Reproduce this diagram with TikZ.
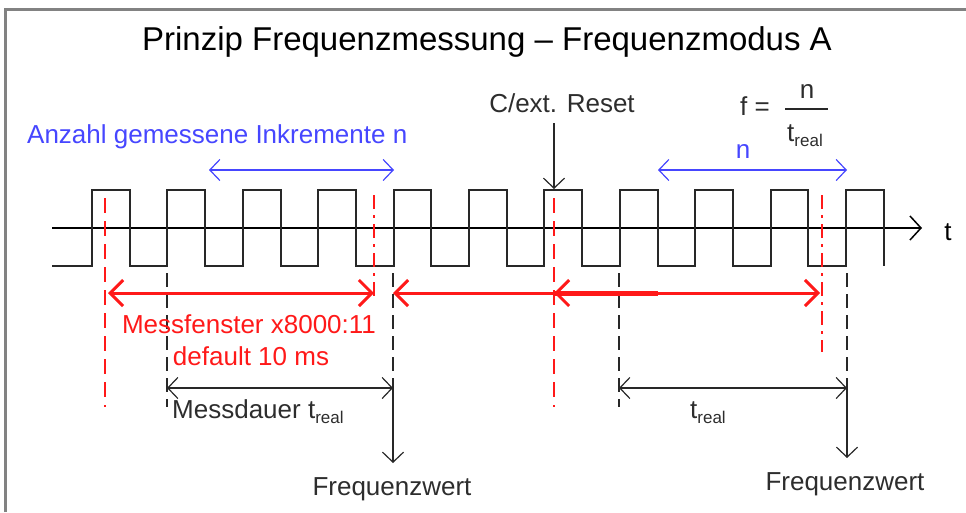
\documentclass[tikz,border=0pt]{standalone}
\usepackage{fontspec}
\setmainfont{Liberation Sans}
\usetikzlibrary{arrows.meta}
\definecolor{myred}{RGB}{255,25,25}
\definecolor{myblue}{RGB}{70,70,255}
\definecolor{txt}{RGB}{45,45,45}
\definecolor{framegray}{RGB}{130,130,130}
\definecolor{sigcol}{RGB}{40,40,40}
\newcommand{\realsub}{\raisebox{-5pt}{\fontsize{17}{17}\selectfont real}}
\begin{document}
\begin{tikzpicture}[x=1pt,y=-1pt,
  lbl/.style={font=\fontsize{26}{30}\selectfont, text=txt, inner sep=0pt, anchor=base},
  redbarb/.tip={Straight Barb[length=13pt,width=26pt,line width=3pt]},
  blkbarb/.tip={Straight Barb[length=10pt,width=21pt,line width=1.2pt]},
  redarrow/.style={myred, line width=3pt},
  redvline/.style={myred, line width=2pt, dash pattern=on 15pt off 8pt},
  reddashdot/.style={myred, line width=2pt, dash pattern=on 14pt off 6pt on 3pt off 6pt},
  blkvline/.style={sigcol, line width=1.6pt, dash pattern=on 14pt off 7pt},
  measarrow/.style={sigcol, line width=1.4pt, blkbarb-blkbarb},
  bluearrow/.style={myblue, line width=1.4pt, blkbarb-blkbarb},
  downarrow/.style={sigcol, line width=1.4pt, -blkbarb},
]
\useasboundingbox (0,0) rectangle (966,512);
% frame
\draw[framegray, line width=3pt] (5.5,512) -- (5.5,9.5) -- (966,9.5);

% title
\node[lbl, font=\fontsize{33}{38}\selectfont, text=black] (title) at (487,50) {Prinzip Frequenzmessung – Frequenzmodus A};

% axis
\coordinate (axstart) at (52,228);
\coordinate (axend) at (922,228);
\draw[black, line width=1.5pt, -{Straight Barb[length=11pt,width=24pt,line width=1.5pt]}] (axstart) -- (axend);
\node[lbl, text=black] (tlabel) at (948,240) {t};

% signal
\draw[sigcol, line width=2pt, line join=miter] (52,266)
  \foreach \k in {0,...,10}{
    -- ({92+75.4*\k},266) -- ({92+75.4*\k},190) -- ({129.7+75.4*\k},190) -- ({129.7+75.4*\k},266)
  };

% red vertical lines
\coordinate (r1t) at (105,198); \coordinate (r1b) at (105,407);
\coordinate (r2t) at (374,195); \coordinate (r2b) at (374,296);
\coordinate (r3t) at (554,198); \coordinate (r3b) at (554,407);
\coordinate (r4t) at (822,195); \coordinate (r4b) at (822,352);
\draw[redvline] (r1t) -- (r1b);
\draw[reddashdot] (r2t) -- (r2b);
\draw[redvline] (r3t) -- (r3b);
\draw[reddashdot] (r4t) -- (r4b);

% black dashed vertical lines
\coordinate (b1t) at (167,273); \coordinate (b1b) at (167,407);
\coordinate (b2t) at (393,273); \coordinate (b2m) at (393,388); \coordinate (b2b) at (393,463);
\coordinate (b3t) at (619,273); \coordinate (b3b) at (619,407);
\coordinate (b4t) at (847,273); \coordinate (b4m) at (847,388); \coordinate (b4b) at (847,458);
\draw[blkvline] (b1t) -- (b1b);
\draw[blkvline] (b2t) -- (b2m);
\draw[blkvline] (b3t) -- (b3b);
\draw[blkvline] (b4t) -- (b4m);

% red arrows
\coordinate (ra1) at (108,293); \coordinate (ra2) at (374,293);
\coordinate (ra3) at (393,293); \coordinate (ra4) at (658,293);
\coordinate (ra5) at (554,293); \coordinate (ra6) at (820,293);
\draw[redarrow, redbarb-redbarb] (ra1) -- (ra2);
\draw[redarrow, redbarb-] (ra3) -- (ra4);
\draw[redarrow, redbarb-redbarb] (ra5) -- (ra6);
\draw[myred, line width=5pt] (ra5) -- (ra4);

% measurement arrows
\draw[measarrow] (b1t |- b2m) -- (b2m);
\draw[measarrow] (b3t |- b4m) -- (b4m);
\draw[downarrow] (b2m) -- (b2b);
\draw[downarrow] (b4m) -- (b4b);

% blue arrows
\coordinate (bl1) at (209,170); \coordinate (bl2) at (394,170);
\coordinate (bl3) at (658,170); \coordinate (bl4) at (847,170);
\draw[bluearrow] (bl1) -- (bl2);
\draw[bluearrow] (bl3) -- (bl4);

% reset arrow
\node[lbl] (reset) at (562,112) {C/ext. Reset};
\coordinate (resettip) at (554,189);
\draw[downarrow] (554,123) -- (resettip);

% texts
\node[lbl, text=myblue, anchor=base west] (anzahl) at (27,143) {Anzahl gemessene Inkremente n};
\node[lbl, text=myblue] (nright) at (743,158) {n};
\node[lbl, text=myred] (mf1) at (249,333) {Messfenster x8000:11};
\node[lbl, text=myred] (mf2) at (251,365) {default 10 ms};
\node[lbl, anchor=base west] (messdauer) at (172,418) {Messdauer t\realsub};
\node[lbl, anchor=base west] (treal) at (690,418) {t\realsub};
\node[lbl] (fw1) at (392,495) {Frequenzwert};
\node[lbl] (fw2) at (845,490) {Frequenzwert};

% formula
\node[lbl, anchor=base west] (feq) at (740,115) {f =};
\coordinate (fl1) at (785,109); \coordinate (fl2) at (828,109);
\draw[sigcol, line width=1.4pt] (fl1) -- (fl2);
\node[lbl] (fn) at (807,98) {n};
\node[lbl] (ft) at (805,141) {t\realsub};
\end{tikzpicture}
\end{document}
